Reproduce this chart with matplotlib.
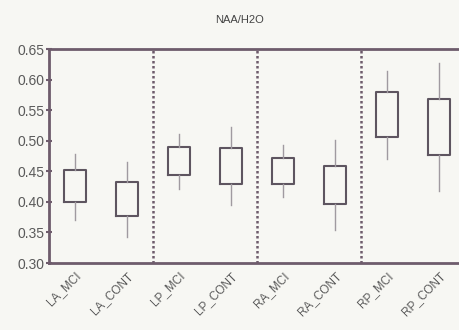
import matplotlib.pyplot as plt

plt.rcParams['font.family'] = ['Liberation Sans', 'DejaVu Sans']

# region/group labels
labels = ['LA_MCI', 'LA_CONT', 'LP_MCI', 'LP_CONT',
          'RA_MCI', 'RA_CONT', 'RP_MCI', 'RP_CONT']

# box bottom/top and whisker low/high
box_low = [0.399, 0.377, 0.444, 0.430, 0.429, 0.396, 0.506, 0.477]
box_high = [0.452, 0.433, 0.490, 0.488, 0.472, 0.459, 0.579, 0.568]
whis_low = [0.371, 0.342, 0.421, 0.395, 0.408, 0.354, 0.470, 0.418]
whis_high = [0.478, 0.466, 0.511, 0.523, 0.493, 0.501, 0.614, 0.627]

y_ticks = [0.30, 0.35, 0.40, 0.45, 0.50, 0.55, 0.60, 0.65]

frame_col = '#6e5c6c'
box_col = '#5e5560'
whisk_col = '#a09aa0'
bg = '#f7f7f3'

fig = plt.figure(figsize=(4.59, 3.30), dpi=100, facecolor=bg)
ax = fig.add_axes([0.107, 0.203, 0.906, 0.6485], facecolor=bg)

stats = []
for i, lab in enumerate(labels):
    mid = (box_low[i] + box_high[i]) / 2
    stats.append({'label': lab, 'q1': box_low[i], 'q3': box_high[i], 'med': mid,
                  'whislo': whis_low[i], 'whishi': whis_high[i], 'fliers': []})

ax.bxp(stats, positions=range(len(labels)), widths=0.42, showcaps=False,
       boxprops=dict(color=box_col, linewidth=1.5),
       whiskerprops=dict(color=whisk_col, linewidth=1.0),
       medianprops=dict(linewidth=0))

# dotted separators between regions
for xs in [1.5, 3.5, 5.5]:
    ax.axvline(xs, color=frame_col, linestyle=(0, (1, 1)), linewidth=1.8)

ax.set_xlim(-0.5, 7.5)
ax.set_ylim(0.30, 0.65)
ax.set_yticks(y_ticks)
ax.set_yticklabels([f'{v:.2f}' for v in y_ticks], fontsize=10, color='#5a5a5a')
ax.set_xticks(range(len(labels)))
ax.set_xticklabels(labels, rotation=45, ha='right', rotation_mode='anchor',
                   fontsize=8.5, color='#5a5a5a')

ax.tick_params(axis='y', direction='inout', length=5, width=1.5, color=frame_col, pad=1)
ax.tick_params(axis='x', length=0, pad=5)
for sp in ax.spines.values():
    sp.set_color(frame_col)
    sp.set_linewidth(2)
ax.spines['right'].set_visible(False)

fig.text(240 / 459, 0.938, 'NAA/H2O', ha='center', va='center', fontsize=8, color='#444444')

fig.savefig('out.png', dpi=100, facecolor=bg)
